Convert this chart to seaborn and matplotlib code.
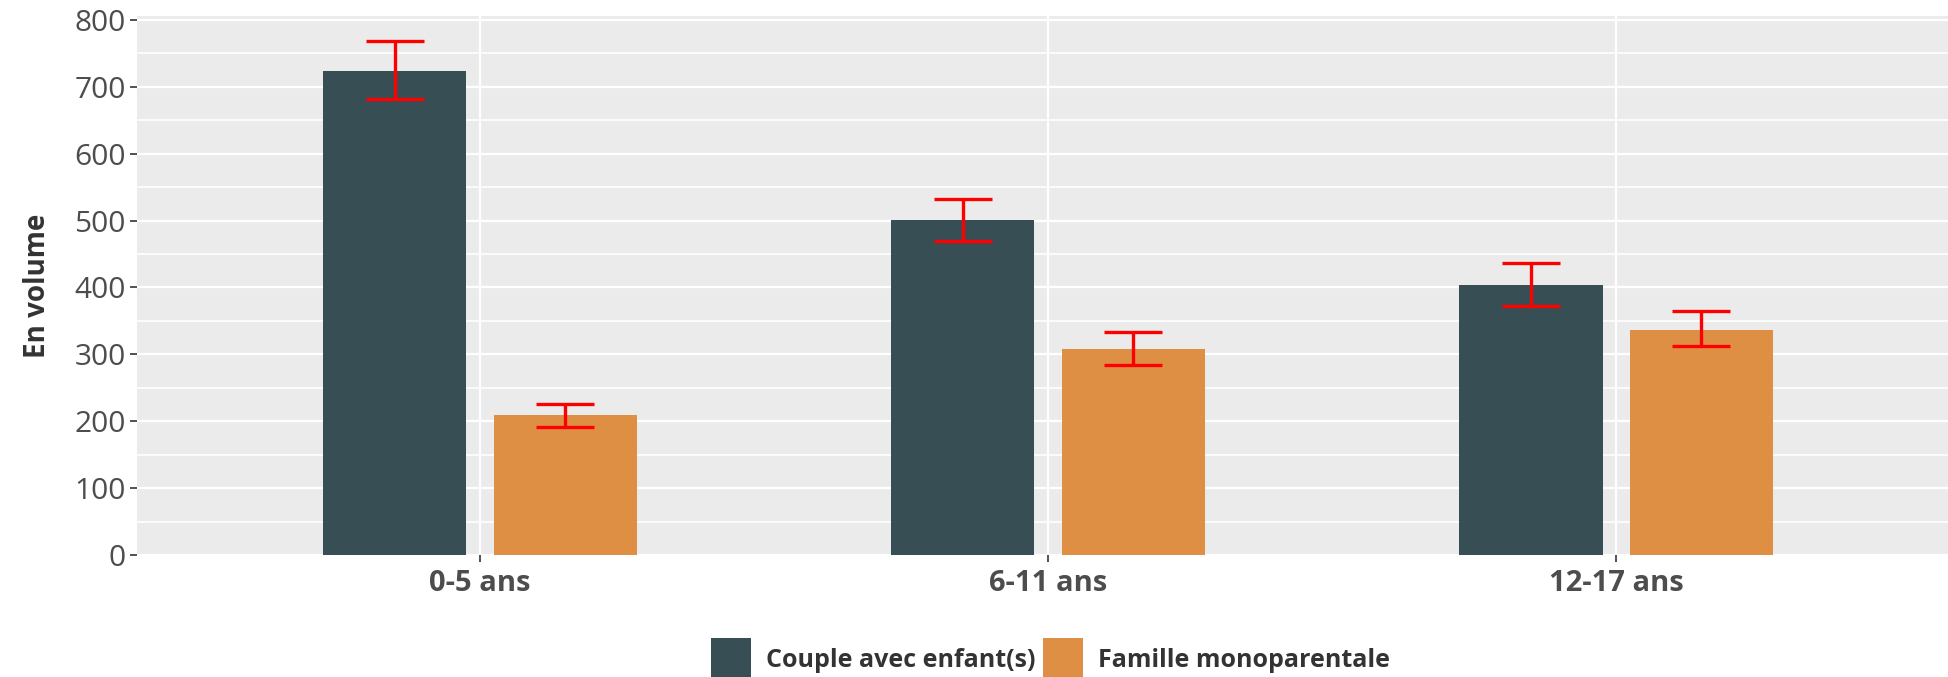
import numpy as np
import pandas as pd
import seaborn as sns
import matplotlib.pyplot as plt
from matplotlib.ticker import MultipleLocator
from matplotlib.patches import Patch

# values
ages = ["0-5 ans", "6-11 ans", "12-17 ans"]
types = ["Couple avec enfant(s)", "Famille monoparentale"]
couple = [724, 501, 403]
couple_low = [682, 470, 373]
couple_high = [768, 532, 437]
mono = [209, 308, 336]
mono_low = [192, 284, 312]
mono_high = [226, 334, 365]
colors = ["#374E55", "#DF8F44"]

df = pd.DataFrame({
    "age": ages * 2,
    "type": [types[0]] * 3 + [types[1]] * 3,
    "value": couple + mono,
    "low": couple_low + mono_low,
    "high": couple_high + mono_high,
})

sns.set_theme(style="darkgrid", rc={
    "axes.facecolor": "#EBEBEB",
    "grid.color": "white",
    "axes.edgecolor": "#EBEBEB",
})
plt.rcParams["font.family"] = ["Open Sans", "DejaVu Sans"]

fig = plt.figure(figsize=(19.49, 6.77), dpi=100)
ax = fig.add_axes([0.0703, 0.1802, 0.9297, 0.7962])

sns.barplot(data=df, x="age", y="value", hue="type", order=ages,
            hue_order=types, palette=colors, width=0.6, gap=0.16,
            errorbar=None, saturation=1, linewidth=0, legend=False, ax=ax)

# red error bars on top of each bar
for cont, t in zip(ax.containers, types):
    sub = df[df["type"] == t].set_index("age").loc[ages]
    xs = [p.get_x() + p.get_width() / 2 for p in cont]
    ax.errorbar(xs, sub["value"],
                yerr=[sub["value"] - sub["low"], sub["high"] - sub["value"]],
                fmt="none", ecolor="red", elinewidth=2.4, capsize=21,
                capthick=2.4, zorder=5)

ax.set_xlim(-0.604, 2.586)
ax.set_ylim(0, 806)
ax.yaxis.set_major_locator(MultipleLocator(100))
ax.yaxis.set_minor_locator(MultipleLocator(50))
ax.grid(which="major", color="white", linewidth=1.6)
ax.grid(which="minor", axis="y", color="white", linewidth=1.2)
for s in ax.spines.values():
    s.set_visible(False)

ax.tick_params(axis="both", which="major", length=5, width=1.2,
               color="#333333", bottom=True, left=True, pad=3)
ax.tick_params(axis="y", which="minor", length=0)
ax.tick_params(axis="y", labelsize=21.5, labelcolor="#4D4D4D")
ax.tick_params(axis="x", labelsize=21, labelcolor="#4D4D4D", pad=5)
for lab in ax.get_xticklabels():
    lab.set_fontweight("bold")

ax.set_xlabel("")
ax.set_ylabel("En volume", fontsize=20, fontweight="bold", color="#333333")
ax.yaxis.set_label_coords(-0.047, 0.5)

handles = [Patch(facecolor=c, edgecolor="none", label=t)
           for c, t in zip(colors, types)]
fig.legend(handles=handles, loc="center", bbox_to_anchor=(0.539, 0.027),
           ncol=2, frameon=False,
           prop={"weight": "bold", "size": 18},
           handlelength=1.6, handleheight=2.2, handletextpad=0.6,
           columnspacing=0.3, labelcolor="#333333")

fig.savefig("out.png", dpi=100)
